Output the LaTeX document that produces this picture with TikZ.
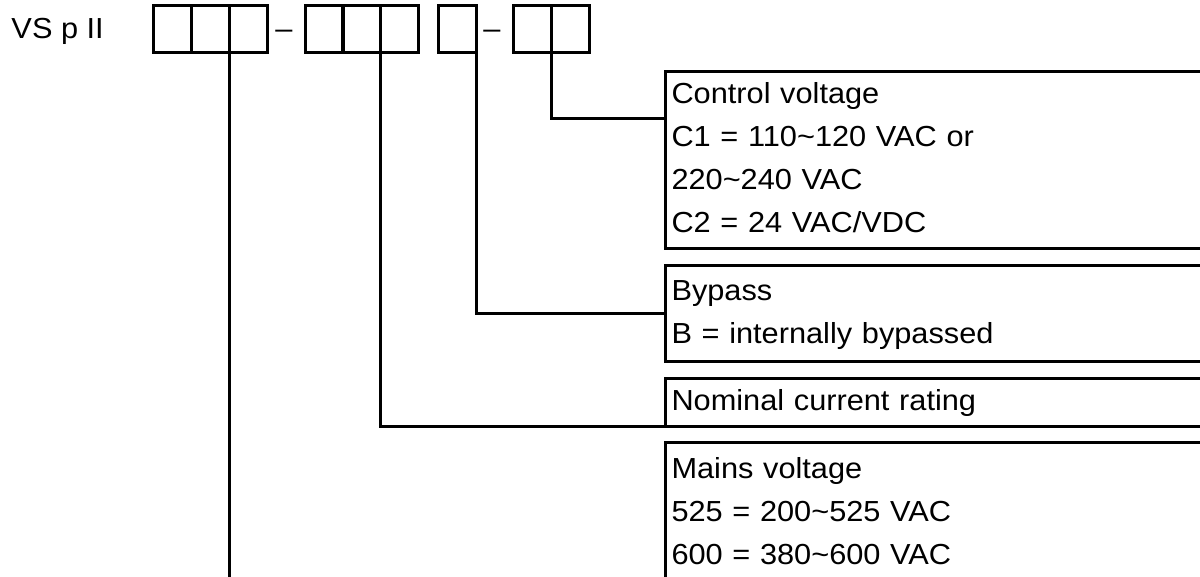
\documentclass[tikz,border=0pt]{standalone}
\usepackage{fontspec}
\setmainfont[FakeStretch=1.06]{Liberation Sans}

\begin{document}
\begin{tikzpicture}[x=1pt,y=-1pt,line width=3pt,
  every node/.style={font=\fontsize{29}{43}\selectfont},
  cell/.style={draw,anchor=north west,minimum width=38pt,minimum height=47pt,inner sep=0pt,outer sep=0pt},
  info/.style={draw,anchor=north west,text width=560pt,align=left,inner xsep=6.5pt,inner ysep=2.5pt,outer sep=0pt}]
\useasboundingbox (0,0) rectangle (1200,576);
\clip (0,0) rectangle (1200,576);
\node[anchor=base west,inner sep=0pt] (NAME) at (10,38) {VS p II};
\node[cell] (A1) at (153,5) {};
\node[cell] (A2) at (191,5) {};
\node[cell] (A3) at (229,5) {};
\node[anchor=base,inner sep=0pt] (DASH1) at (284,38) {–};
\node[cell] (B1) at (305,5) {};
\node[cell] (B2) at (342.5,5) {};
\node[cell] (B3) at (380,5) {};
\node[cell] (C1) at (438,5) {};
\node[anchor=base,inner sep=0pt] (DASH2) at (492,38) {–};
\node[cell] (D1) at (513,5) {};
\node[cell] (D2) at (551,5) {};
\node[info] (CTRL) at (665,71) {\strut Control voltage\\\strut C1 = 110\textasciitilde120 VAC or\\\strut 220\textasciitilde240 VAC\\\strut C2 = 24 VAC/VDC};
\node[info,minimum height=96pt] (BYP) at (665,265) {\strut Bypass\\\strut B = internally bypassed};
\node[info] (NOM) at (665,378) {\strut Nominal current rating};
\node[info,minimum height=141pt] (MAINS) at (665,442) {\strut Mains voltage\\\strut 525 = 200\textasciitilde525 VAC\\\strut 600 = 380\textasciitilde600 VAC};
\coordinate (BOTTOM) at (229,590);
\draw (D1.south east) |- ([yshift=-47pt]CTRL.north west);
\draw (C1.south east) |- (BYP.west);
\draw (B2.south east) |- (NOM.south west);
\draw (A2.south east) -- (BOTTOM);
\end{tikzpicture}
\end{document}
